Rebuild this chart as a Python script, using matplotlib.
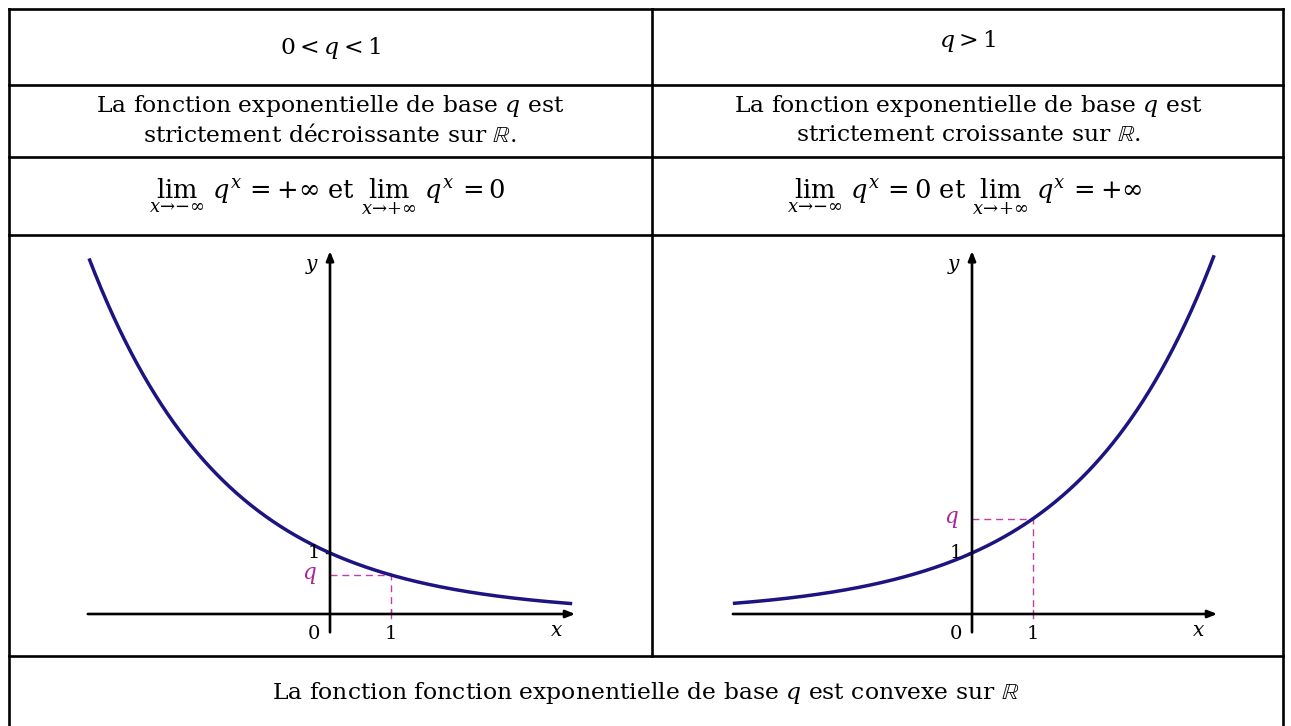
import numpy as np
import matplotlib
matplotlib.use("Agg")
import matplotlib.pyplot as plt

plt.rcParams['font.family'] = ['DejaVu Serif', 'DejaVu Sans']
plt.rcParams['mathtext.fontset'] = 'dejavuserif'

# ---- data ----
bases = [0.64, 1.5625]                 # q for the left (0<q<1) and right (q>1) panels
curve_x_ranges = [(-3.95, 3.97), (-3.92, 3.97)]
header_texts = [r"$0 < q < 1$", r"$q > 1$"]
sense_texts = [["La fonction exponentielle de base $q$ est",
                "strictement décroissante sur $\\mathbb{R}$."],
               ["La fonction exponentielle de base $q$ est",
                "strictement croissante sur $\\mathbb{R}$."]]
limit_texts = [r"$\lim_{x\rightarrow-\infty}\ q^x = +\infty$ et $\lim_{x\rightarrow+\infty}\ q^x = 0$",
               r"$\lim_{x\rightarrow-\infty}\ q^x = 0$ et $\lim_{x\rightarrow+\infty}\ q^x = +\infty$"]
footer_text = r"La fonction fonction exponentielle de base $q$ est convexe sur $\mathbb{R}$"

W, H = 1291, 726
fig = plt.figure(figsize=(W / 100, H / 100), dpi=100)

# table layer in pixel coordinates
tab = fig.add_axes([0, 0, 1, 1])
tab.set_xlim(0, W)
tab.set_ylim(H, 0)
tab.axis('off')

LW_T = 1.9
x_left, x_mid, x_right = 9, 652, 1283
rows = [9, 85, 157, 235, 656]
for yy in rows:
    tab.plot([x_left, x_right], [yy, yy], color='black', lw=LW_T, solid_capstyle='projecting')
tab.plot([x_left, x_left], [rows[0], H + 5], color='black', lw=LW_T)
tab.plot([x_right, x_right], [rows[0], H + 5], color='black', lw=LW_T)
tab.plot([x_mid, x_mid], [rows[0], rows[-1]], color='black', lw=LW_T)

FS = 16.9
centers = [330, 968]
header_y = [48, 41]
for i, cx in enumerate(centers):
    tab.text(cx, header_y[i], header_texts[i], ha='center', va='center', fontsize=FS)
    tab.text(cx, 106, sense_texts[i][0], ha='center', va='center', fontsize=FS)
    tab.text(cx, 135, sense_texts[i][1], ha='center', va='center', fontsize=FS)
    tab.text(cx - 3, 197, limit_texts[i], ha='center', va='center', fontsize=18.5)
tab.text(646, 693, footer_text, ha='center', va='center', fontsize=FS)

# ---- plot panels ----
CURVE = '#1c1480'
MAG = '#a8279a'
DASH = '#c23aac'
UNIT = 61.0
origins = [(330, 614), (972, 614)]
xlim = (-4.3, 4.4)
ylim = (-0.6, 6.3)

for i, (ox, oy) in enumerate(origins):
    l = (ox + xlim[0] * UNIT) / W
    r = (ox + xlim[1] * UNIT) / W
    b = (H - (oy - ylim[0] * UNIT)) / H
    t = (H - (oy - ylim[1] * UNIT)) / H
    ax = fig.add_axes([l, b, r - l, t - b])
    ax.set_xlim(*xlim)
    ax.set_ylim(*ylim)
    ax.axis('off')
    ax.patch.set_alpha(0)

    q = bases[i]
    x0a = -3.97 if i == 0 else -3.92
    # axes with arrows
    ax.annotate('', xy=(4.02, 0), xytext=(x0a, 0),
                arrowprops=dict(arrowstyle='-|>,head_length=0.55,head_width=0.22',
                                color='black', lw=1.9, shrinkA=0, shrinkB=0))
    ax.annotate('', xy=(0, 5.95), xytext=(0, -0.3),
                arrowprops=dict(arrowstyle='-|>,head_length=0.55,head_width=0.22',
                                color='black', lw=1.9, shrinkA=0, shrinkB=0))
    # dashed guides
    ax.plot([0, 1, 1], [q, q, 0], color=DASH, lw=1.0, dashes=(5, 3.5))
    ax.plot([1, 1], [-0.07, 0.07], color=DASH, lw=1.0)
    ax.plot([-0.07, 0], [1, 1], color='black', lw=1.0)
    # curve
    xs = np.linspace(*curve_x_ranges[i], 400)
    ax.plot(xs, q ** xs, color=CURVE, lw=2.5, solid_capstyle='butt')

    # labels
    ax.text(-0.3, 5.7, r"$y$", ha='center', va='center', fontsize=14.5)
    ax.text(3.72, -0.27, r"$x$", ha='center', va='center', fontsize=14.5)
    ax.text(-0.27, -0.32, "0", ha='center', va='center', fontsize=14)
    ax.text(1.0, -0.32, "1", ha='center', va='center', fontsize=14)
    ax.text(-0.27, 1.0, "1", ha='center', va='center', fontsize=14)
    ax.text(-0.34, q, r"$q$", ha='center', va='center', fontsize=15.5, color=MAG)

fig.savefig('out.png', dpi=100)
